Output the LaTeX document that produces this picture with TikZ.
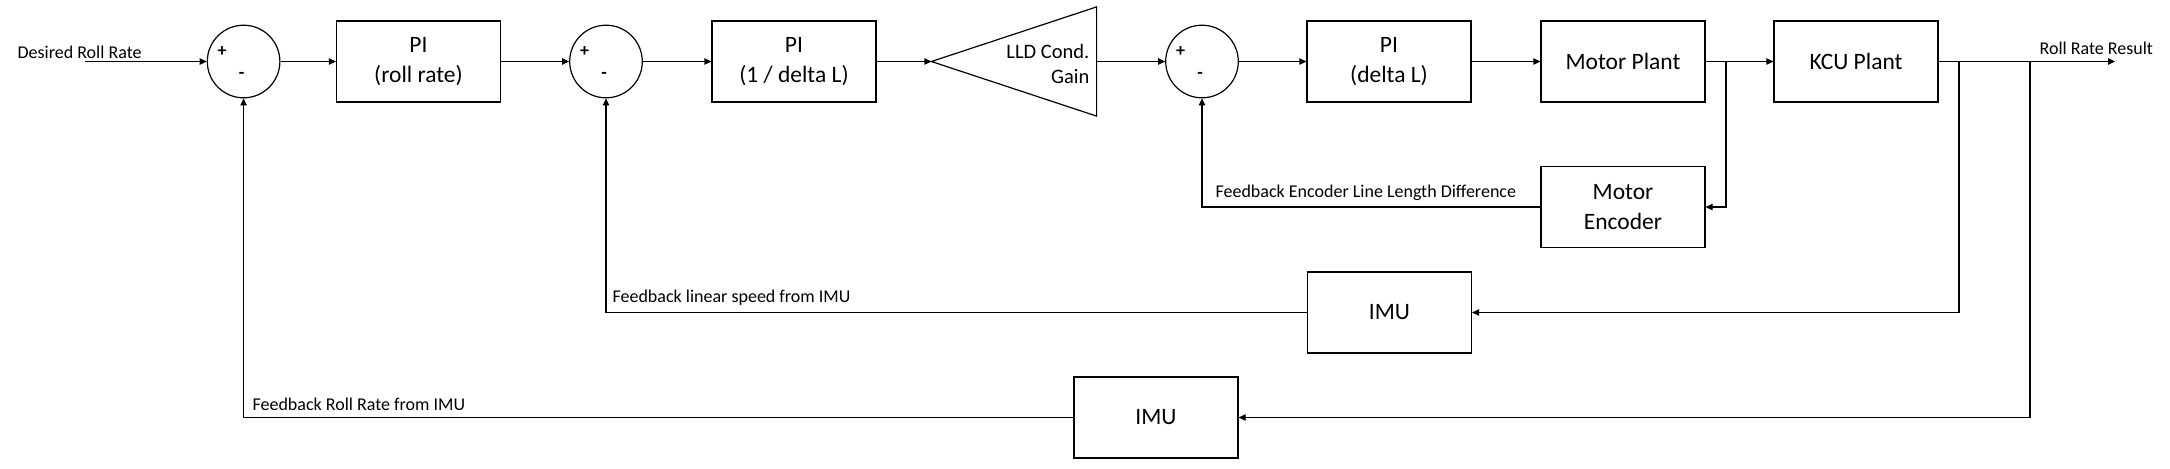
\documentclass[tikz,border=0pt]{standalone}
\usepackage{fontspec}
\setmainfont{Carlito}
\usetikzlibrary{arrows.meta}
\begin{document}
\begin{tikzpicture}[x=0.5pt,y=-0.5pt,
  line width=0.6pt,
  blk/.style={draw, minimum width=82pt, minimum height=40.5pt, inner sep=0pt, align=center, font=\fontsize{11.75}{15}\selectfont},
  sum/.style={draw, circle, minimum size=36.3pt, inner sep=0pt},
  lbl/.style={font=\fontsize{9}{11}\selectfont, inner sep=0pt},
  sig/.style={-{Triangle[length=3.5pt,width=3.2pt]}},
  sgn/.style={font=\fontsize{9}{9}\selectfont\bfseries, inner sep=0pt}]
\useasboundingbox (0,0) rectangle (2170,468);
% forward path
\coordinate (in) at (85,61.5);
\node[sum] (s1) at (243.6,61.5) {};
\node[blk] (pi1) at (418.5,61.5) {PI\\(roll rate)};
\node[sum] (s2) at (606,61.5) {};
\node[blk] (pi2) at (794,61.5) {PI\\(1 / delta L)};
\node[inner sep=0pt, minimum width=82pt, minimum height=54pt] (gain) at (1014,61.5) {};
\draw (gain.west) -- (gain.north east) -- (gain.south east) -- cycle;
\node[anchor=east, align=right, inner sep=0pt, font=\fontsize{10.25}{12.5}\selectfont] (gaintxt) at (1090,63.5) {LLD Cond.\\Gain};
\node[sum] (s3) at (1202,61.5) {};
\node[blk] (pi3) at (1389,61.5) {PI\\(delta L)};
\node[blk] (mp) at (1623,61.5) {Motor Plant};
\node[blk] (kcu) at (1856,61.5) {KCU Plant};
\coordinate (out) at (2115,61.5);
% feedback blocks
\node[blk] (me) at (1623,207) {Motor\\Encoder};
\node[blk] (imu1) at (1389.5,312.5) {IMU};
\node[blk] (imu2) at (1156,417.5) {IMU};
% signs
\foreach \s in {s1,s2,s3}{
  \node[sgn] (\s p) at ([shift={(-21.5,-10)}]\s.center) {+};
  \node[sgn] (\s m) at ([shift={(-2,14)}]\s.center) {-};
}
% forward connectors
\draw[sig] (in) -- (s1.west);
\draw[sig] (s1.east) -- (pi1.west);
\draw[sig] (pi1.east) -- (s2.west);
\draw[sig] (s2.east) -- (pi2.west);
\draw[sig] (pi2.east) -- (gain.west);
\draw[sig] (gain.east) -- (s3.west);
\draw[sig] (s3.east) -- (pi3.west);
\draw[sig] (pi3.east) -- (mp.west);
\draw[sig] (mp.east) -- (kcu.west);
\draw[sig] (kcu.east) -- (out);
% feedback connectors
\coordinate (b1) at (1726,61.5);
\coordinate (b2) at (1959,61.5);
\coordinate (b3) at (2030,61.5);
\draw[sig] (b1) |- (me.east);
\draw[sig] (me.west) -| (s3.south);
\draw[sig] (b2) |- (imu1.east);
\draw[sig] (imu1.west) -| (s2.south);
\draw[sig] (b3) |- (imu2.east);
\draw[sig] (imu2.west) -| (s1.south);
% labels
\node[lbl, anchor=west] (l0) at (17,52) {Desired Roll Rate};
\node[lbl, anchor=west] (l1) at (2039,48) {Roll Rate Result};
\node[lbl, anchor=west] (l2) at (1215,193) {Feedback Encoder Line Length Difference};
\node[lbl, anchor=west] (l3) at (612,298) {Feedback linear speed from IMU};
\node[lbl, anchor=west] (l4) at (252,404) {Feedback Roll Rate from IMU};
\end{tikzpicture}
\end{document}
